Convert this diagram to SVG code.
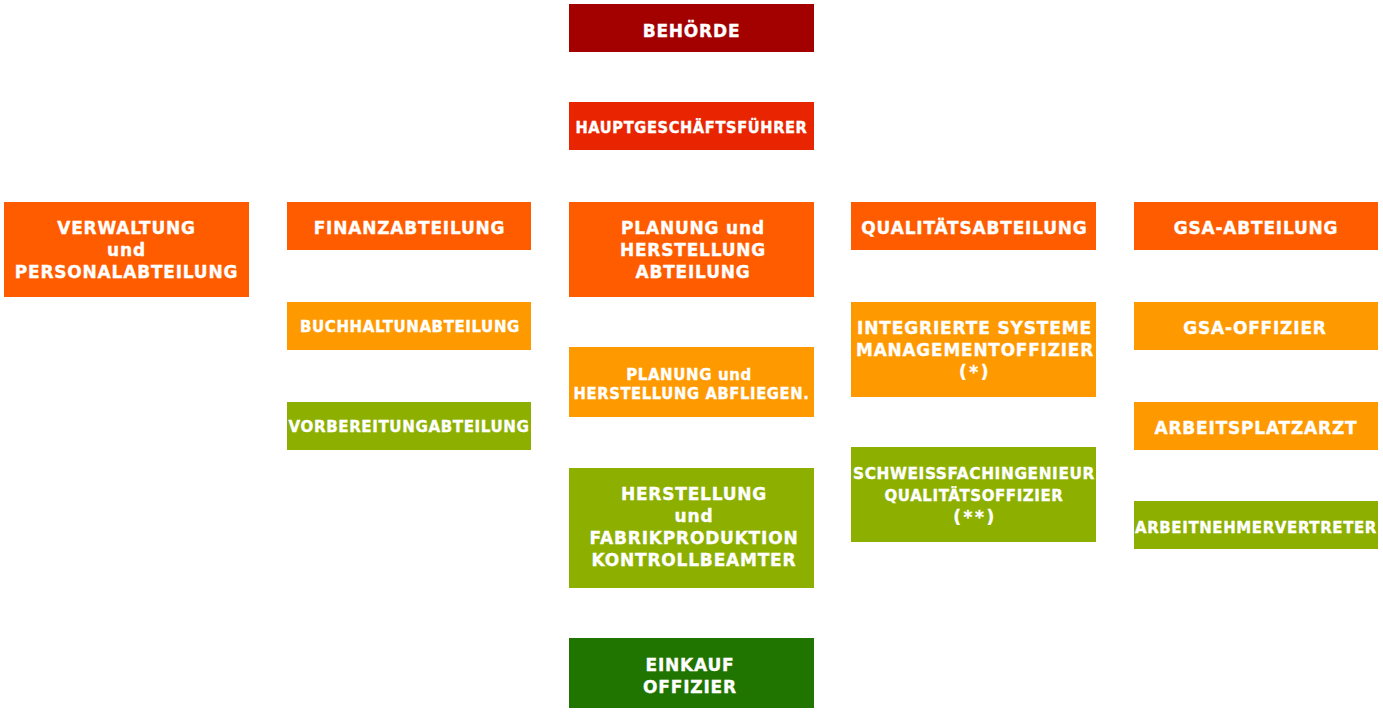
<svg xmlns="http://www.w3.org/2000/svg" width="1383" height="713" viewBox="0 0 1383 713">
<style>
text{font-family:"DejaVu Sans",Verdana,sans-serif;font-weight:bold;fill:#fff;stroke:#fff;stroke-width:0.35px;text-anchor:middle;}
.b{font-size:17px;letter-spacing:0.8px;}
.s{font-size:15px;letter-spacing:0.6px;}
.st{letter-spacing:2.5px;}
.red{fill:#a30000;}
.red2{fill:#e82500;}
.or{fill:#ff5c00;}
.lo{fill:#ff9900;}
.gr{fill:#8db000;}
.dg{fill:#207500;}
</style>
<rect width="1383" height="713" fill="#fff"/>
<g id="connectors"></g>
<g id="behoerde"><rect class="red" x="569" y="4" width="245" height="48"/><text class="b" x="691.5" y="37">BEHÖRDE</text></g>
<g id="hauptgeschaeftsfuehrer"><rect class="red2" x="569" y="102" width="245" height="48"/><text class="s" x="691.5" y="133" textLength="232" lengthAdjust="spacingAndGlyphs">HAUPTGESCHÄFTSFÜHRER</text></g>
<g id="verwaltung"><rect class="or" x="4" y="202" width="245" height="95"/><text class="b" x="126.5" y="234">VERWALTUNG</text><text class="b" x="126.5" y="256">und</text><text class="b" x="126.5" y="278">PERSONALABTEILUNG</text></g>
<g id="finanz"><rect class="or" x="287" y="202" width="244" height="48"/><text class="b" x="409.5" y="234">FINANZABTEILUNG</text></g>
<g id="planung"><rect class="or" x="569" y="202" width="245" height="95"/><text class="b" x="693" y="234">PLANUNG und</text><text class="b" x="693" y="256">HERSTELLUNG</text><text class="b" x="693" y="278">ABTEILUNG</text></g>
<g id="qualitaet"><rect class="or" x="851" y="202" width="245" height="48"/><text class="b" x="974.5" y="234">QUALITÄTSABTEILUNG</text></g>
<g id="gsa-abteilung"><rect class="or" x="1134" y="202" width="244" height="48"/><text class="b" x="1256" y="234">GSA-ABTEILUNG</text></g>
<g id="buchhaltung"><rect class="lo" x="287" y="302" width="244" height="48"/><text class="s" x="410" y="332">BUCHHALTUNABTEILUNG</text></g>
<g id="vorbereitung"><rect class="gr" x="287" y="402" width="244" height="48"/><text class="s" x="409" y="432" textLength="241" lengthAdjust="spacingAndGlyphs">VORBEREITUNGABTEILUNG</text></g>
<g id="abfliegen"><rect class="lo" x="569" y="347" width="245" height="70"/><text class="s" x="689" y="380">PLANUNG und</text><text class="s" x="691.5" y="399" textLength="236" lengthAdjust="spacingAndGlyphs">HERSTELLUNG ABFLIEGEN.</text></g>
<g id="herstellung"><rect class="gr" x="569" y="468" width="245" height="120"/><text class="b" x="694" y="500">HERSTELLUNG</text><text class="b" x="694" y="522">und</text><text class="b" x="694" y="544">FABRIKPRODUKTION</text><text class="b" x="694" y="566">KONTROLLBEAMTER</text></g>
<g id="einkauf"><rect class="dg" x="569" y="638" width="245" height="70"/><text class="b" x="690" y="671">EINKAUF</text><text class="b" x="690" y="693">OFFIZIER</text></g>
<g id="integrierte"><rect class="lo" x="851" y="302" width="245" height="95"/><text class="b" x="974.5" y="334" textLength="235" lengthAdjust="spacingAndGlyphs">INTEGRIERTE SYSTEME</text><text class="b" x="975" y="356" textLength="238" lengthAdjust="spacingAndGlyphs">MANAGEMENTOFFIZIER</text><text class="b st" x="975" y="378">(*)</text></g>
<g id="schweiss"><rect class="gr" x="851" y="447" width="245" height="95"/><text class="s" x="974" y="479" textLength="242" lengthAdjust="spacingAndGlyphs">SCHWEISSFACHINGENIEUR</text><text class="s" x="974" y="501">QUALITÄTSOFFIZIER</text><text class="b st" x="975" y="523">(**)</text></g>
<g id="gsa-offizier"><rect class="lo" x="1134" y="302" width="244" height="48"/><text class="b" x="1255" y="334">GSA-OFFIZIER</text></g>
<g id="arbeitsplatzarzt"><rect class="lo" x="1134" y="402" width="244" height="48"/><text class="b" x="1256" y="434">ARBEITSPLATZARZT</text></g>
<g id="arbeitnehmer"><rect class="gr" x="1134" y="501" width="244" height="48"/><text class="s" x="1256" y="533" textLength="242" lengthAdjust="spacingAndGlyphs">ARBEITNEHMERVERTRETER</text></g>
</svg>
